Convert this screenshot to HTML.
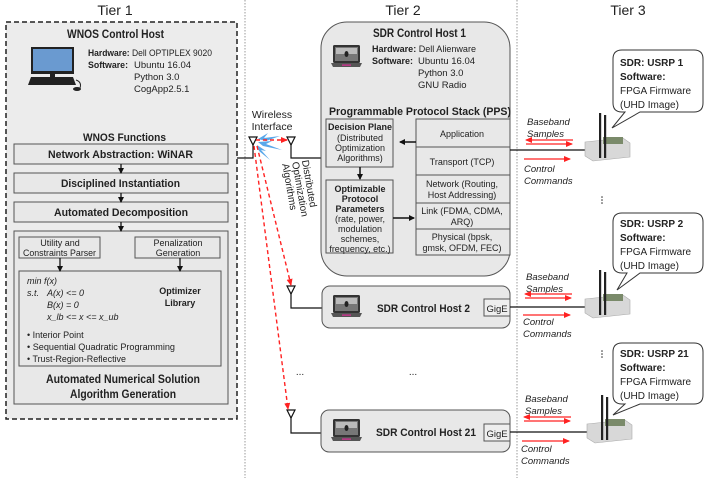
<!DOCTYPE html>
<html><head><meta charset="utf-8"><style>
html,body{margin:0;padding:0;background:#fff}
svg{display:block}
text{font-family:"Liberation Sans",sans-serif;fill:#222}
.b{font-weight:bold}
.i{font-style:italic}
</style></head><body>
<svg width="706" height="478" viewBox="0 0 706 478" xmlns="http://www.w3.org/2000/svg">
<defs>
<marker id="ak" markerWidth="6" markerHeight="6" refX="5" refY="3" orient="auto" markerUnits="userSpaceOnUse"><path d="M0,0 L6,3 L0,6z" fill="#111"/></marker>
<marker id="ar" markerWidth="7" markerHeight="6" refX="6" refY="3" orient="auto" markerUnits="userSpaceOnUse"><path d="M0,0 L7,3 L0,6z" fill="#f22"/></marker>
<marker id="arl" markerWidth="7" markerHeight="6" refX="1" refY="3" orient="auto" markerUnits="userSpaceOnUse"><path d="M7,0 L0,3 L7,6z" fill="#f22"/></marker>
<g id="lap"><rect x="0" y="0" width="27" height="18" rx="1.5" fill="#333"/><rect x="2" y="2" width="23" height="14" fill="#777"/><rect x="3" y="3" width="21" height="6" fill="#bbb"/><ellipse cx="13.5" cy="9" rx="2" ry="3" fill="#222"/><path d="M-2,18 H29 L27,22 H0 Z" fill="#555"/><rect x="9" y="19.5" width="9" height="1.2" fill="#e0309a"/></g>
<g id="usrp"><path d="M0,29 L38,25 L45,30 L45,44 L8,48 L0,43 Z" fill="#d8d8d8" stroke="#aaa" stroke-width="0.6"/><rect x="18" y="24" width="20" height="7" fill="#7a8a6a"/><rect x="14" y="0" width="2.2" height="45" fill="#222"/><rect x="19" y="2" width="2.2" height="43" fill="#222"/></g>
</defs>

<text x="115" y="15" font-size="14" text-anchor="middle">Tier 1</text>
<text x="403" y="15" font-size="14" text-anchor="middle">Tier 2</text>
<text x="628" y="15" font-size="14" text-anchor="middle">Tier 3</text>
<line x1="245" y1="0" x2="245" y2="478" stroke="#999" stroke-dasharray="1.5,1.5"/>
<line x1="517" y1="0" x2="517" y2="478" stroke="#999" stroke-dasharray="1.5,1.5"/>

<!-- Tier 1 -->
<rect x="6" y="22" width="231" height="397" fill="#ececec" stroke="#222" stroke-width="1.5" stroke-dasharray="5,3"/>
<text x="67" y="38" font-size="11.5" class="b" textLength="97" lengthAdjust="spacingAndGlyphs">WNOS Control Host</text>
<rect x="31" y="47" width="43" height="27" fill="#222"/><rect x="33" y="49" width="39" height="22" fill="#6a9ad0"/>
<rect x="50" y="74" width="5" height="3" fill="#222"/>
<path d="M31,77 H73 L76,85 H28 Z" fill="#222"/>
<path d="M76,80 Q82,82 80,88" stroke="#222" fill="none"/><ellipse cx="77" cy="89" rx="4" ry="2" fill="#222"/>
<text x="88" y="56" font-size="9.5" textLength="124" lengthAdjust="spacingAndGlyphs"><tspan class="b">Hardware:</tspan> Dell OPTIPLEX 9020</text>
<text x="88" y="68" font-size="9.5" class="b" textLength="40" lengthAdjust="spacingAndGlyphs">Software:</text>
<text x="134" y="68" font-size="9.5">Ubuntu 16.04</text>
<text x="134" y="80" font-size="9.5">Python 3.0</text>
<text x="134" y="92" font-size="9.5">CogApp2.5.1</text>
<text x="83" y="141" font-size="11" class="b" textLength="83" lengthAdjust="spacingAndGlyphs">WNOS Functions</text>
<g stroke="#555" fill="#e8e8e8">
<rect x="14" y="144" width="214" height="20"/>
<rect x="14" y="173" width="214" height="20"/>
<rect x="14" y="202" width="214" height="20"/>
<rect x="14" y="231" width="214" height="173"/>
<rect x="19" y="237" width="81" height="21"/>
<rect x="135" y="237" width="85" height="21"/>
<rect x="19" y="271" width="202" height="95"/>
</g>
<text x="48" y="158" font-size="11" class="b" textLength="145" lengthAdjust="spacingAndGlyphs">Network Abstraction: WiNAR</text>
<text x="61" y="187" font-size="11" class="b" textLength="119" lengthAdjust="spacingAndGlyphs">Disciplined Instantiation</text>
<text x="54" y="216" font-size="11" class="b" textLength="134" lengthAdjust="spacingAndGlyphs">Automated Decomposition</text>
<g stroke="#111" stroke-width="1.3" marker-end="url(#ak)">
<line x1="121" y1="164" x2="121" y2="173"/><line x1="121" y1="193" x2="121" y2="202"/><line x1="121" y1="222" x2="121" y2="231"/>
<line x1="60" y1="258" x2="60" y2="271"/><line x1="180" y1="258" x2="180" y2="271"/>
</g>
<text x="60" y="246" font-size="9" text-anchor="middle">Utility and</text>
<text x="23" y="256" font-size="9" textLength="73" lengthAdjust="spacingAndGlyphs">Constraints Parser</text>
<text x="178" y="246" font-size="9" text-anchor="middle">Penalization</text>
<text x="178" y="256" font-size="9" text-anchor="middle">Generation</text>
<g font-size="9" class="i">
<text x="27" y="284">min  f(x)</text>
<text x="27" y="296">s.t.</text><text x="47" y="296">A(x) &lt;= 0</text>
<text x="47" y="308">B(x) = 0</text>
<text x="47" y="320">x_lb &lt;= x  &lt;= x_ub</text>
</g>
<text x="180" y="294" font-size="9" class="b" text-anchor="middle">Optimizer</text>
<text x="180" y="306" font-size="9" class="b" text-anchor="middle">Library</text>
<text x="27" y="338" font-size="9">• Interior Point</text>
<text x="27" y="350" font-size="9" textLength="148" lengthAdjust="spacingAndGlyphs">• Sequential Quadratic Programming</text>
<text x="27" y="362" font-size="9" textLength="99" lengthAdjust="spacingAndGlyphs">• Trust-Region-Reflective</text>
<text x="46" y="383" font-size="11.5" class="b" textLength="154" lengthAdjust="spacingAndGlyphs">Automated Numerical Solution</text>
<text x="70" y="398" font-size="11.5" class="b" textLength="106" lengthAdjust="spacingAndGlyphs">Algorithm Generation</text>

<!-- Wireless -->
<text x="272" y="118" font-size="10.5" text-anchor="middle">Wireless</text>
<text x="272" y="130" font-size="10.5" text-anchor="middle">Interface</text>
<g stroke="#111" stroke-width="1.2" fill="none">
<path d="M237,158 H253 V139"/><path d="M249,137 H257 L253,145 Z" fill="#fff"/>
<path d="M291,139 V158 H321"/><path d="M287,137 H295 L291,145 Z" fill="#fff"/>
<path d="M291,288 V308 H322"/><path d="M287,286 H295 L291,294 Z" fill="#fff"/>
<path d="M291,412 V433 H321"/><path d="M287,410 H295 L291,418 Z" fill="#fff"/>
</g>
<g fill="#5aa8ea">
<path d="M258,139 L268,133 L264,138 L280,136 L266,141 Z"/>
<path d="M258,142 L272,141 L266,144 L282,150 L263,146 Z"/>
<path d="M257,145 L266,151 L261,150 L270,160 L259,151 Z"/>
</g>
<g stroke="#f22" stroke-width="1.4" fill="none" stroke-dasharray="4,3">
<line x1="256" y1="140" x2="287" y2="140" marker-end="url(#ar)"/>
<line x1="257" y1="146" x2="291" y2="285" marker-end="url(#ar)"/>
<line x1="254" y1="146" x2="288" y2="409" marker-end="url(#ar)"/>
</g>
<g font-size="10" transform="translate(294,162) rotate(80)">
<text x="0" y="-8">Distributed</text>
<text x="0" y="2">Optimization</text>
<text x="0" y="12">Algorithms</text>
</g>

<!-- SDR host 1 -->
<rect x="321" y="22" width="189" height="254" rx="26" fill="#e8e8e8" stroke="#555"/>
<text x="373" y="37" font-size="11.5" class="b" textLength="93" lengthAdjust="spacingAndGlyphs">SDR Control Host 1</text>
<use href="#lap" x="333" y="45"/>
<text x="372" y="52" font-size="9.5" textLength="104" lengthAdjust="spacingAndGlyphs"><tspan class="b">Hardware:</tspan> Dell Alienware</text>
<text x="372" y="64" font-size="9.5" class="b" textLength="41" lengthAdjust="spacingAndGlyphs">Software:</text>
<text x="418" y="64" font-size="9.5">Ubuntu 16.04</text>
<text x="418" y="76" font-size="9.5">Python 3.0</text>
<text x="418" y="88" font-size="9.5">GNU Radio</text>
<text x="329" y="115" font-size="11" class="b" textLength="182" lengthAdjust="spacingAndGlyphs">Programmable Protocol Stack (PPS)</text>
<g stroke="#555" fill="#e8e8e8">
<rect x="326" y="119" width="67" height="48"/>
<rect x="326" y="180" width="67" height="73"/>
<rect x="416" y="119" width="94" height="136"/>
</g>
<g stroke="#555"><line x1="416" y1="147" x2="510" y2="147"/><line x1="416" y1="175" x2="510" y2="175"/><line x1="416" y1="203" x2="510" y2="203"/><line x1="416" y1="229" x2="510" y2="229"/></g>
<g font-size="9" text-anchor="middle">
<text x="360" y="130" class="b">Decision Plane</text>
<text x="360" y="141">(Distributed</text>
<text x="360" y="151">Optimization</text>
<text x="360" y="161">Algorithms)</text>
<text x="360" y="192" class="b">Optimizable</text>
<text x="360" y="202" class="b">Protocol</text>
<text x="360" y="212" class="b">Parameters</text>
<text x="360" y="222">(rate, power,</text>
<text x="360" y="232">modulation</text>
<text x="360" y="242">schemes,</text>
<text x="360" y="252">frequency, etc.)</text>
<text x="462" y="137">Application</text>
<text x="462" y="165">Transport (TCP)</text>
<text x="462" y="187">Network (Routing,</text>
<text x="462" y="198">Host Addressing)</text>
<text x="462" y="214">Link (FDMA, CDMA,</text>
<text x="462" y="225">ARQ)</text>
<text x="462" y="240">Physical (bpsk,</text>
<text x="462" y="251">gmsk, OFDM, FEC)</text>
</g>
<g stroke="#111" stroke-width="1.5" marker-end="url(#ak)">
<line x1="416" y1="142" x2="400" y2="142"/>
<line x1="360" y1="167" x2="360" y2="179"/>
<line x1="393" y1="218" x2="414" y2="218"/>
</g>

<!-- hosts 2, 21 -->
<rect x="322" y="286" width="188" height="42" rx="8" fill="#e8e8e8" stroke="#555"/>
<use href="#lap" x="333" y="295"/>
<text x="377" y="312" font-size="11" class="b" textLength="93" lengthAdjust="spacingAndGlyphs">SDR Control Host 2</text>
<rect x="484" y="299" width="26" height="17" fill="#eee" stroke="#555"/>
<text x="497" y="312" font-size="9.5" text-anchor="middle">GigE</text>
<rect x="321" y="410" width="189" height="42" rx="8" fill="#e8e8e8" stroke="#555"/>
<use href="#lap" x="333" y="419"/>
<text x="376" y="436" font-size="11" class="b" textLength="100" lengthAdjust="spacingAndGlyphs">SDR Control Host 21</text>
<rect x="484" y="424" width="26" height="17" fill="#eee" stroke="#555"/>
<text x="497" y="437" font-size="9.5" text-anchor="middle">GigE</text>
<text x="300" y="375" font-size="10" text-anchor="middle">...</text>
<text x="413" y="375" font-size="10" text-anchor="middle">...</text>

<!-- Tier 3 -->
<g stroke="#111" stroke-width="1.2">
<line x1="510" y1="150" x2="590" y2="150"/>
<line x1="510" y1="307" x2="590" y2="307"/>
<line x1="510" y1="432" x2="590" y2="432"/>
</g>
<use href="#usrp" x="585" y="113"/>
<use href="#usrp" x="585" y="270"/>
<use href="#usrp" x="587" y="395"/>

<g fill="#fff" stroke="#333">
<path d="M622,50 H694 Q703,50 703,59 V103 Q703,112 694,112 H640 L612,128 L625,112 H622 Q613,112 613,103 V59 Q613,50 622,50 Z"/>
<path d="M622,213 H694 Q703,213 703,222 V264 Q703,273 694,273 H640 L617,290 L627,273 H622 Q613,273 613,264 V222 Q613,213 622,213 Z"/>
<path d="M622,343 H694 Q703,343 703,352 V395 Q703,404 694,404 H640 L613,415 L625,404 H622 Q613,404 613,395 V352 Q613,343 622,343 Z"/>
</g>
<g font-size="10">
<text x="620" y="66" class="b">SDR: USRP 1</text><text x="620" y="80" class="b">Software:</text><text x="620" y="94">FPGA Firmware</text><text x="620" y="108">(UHD Image)</text>
<text x="620" y="227" class="b">SDR: USRP 2</text><text x="620" y="241" class="b">Software:</text><text x="620" y="255">FPGA Firmware</text><text x="620" y="269">(UHD Image)</text>
<text x="620" y="357" class="b">SDR: USRP 21</text><text x="620" y="371" class="b">Software:</text><text x="620" y="385">FPGA Firmware</text><text x="620" y="399">(UHD Image)</text>
</g>
<g font-size="9.5" class="i">
<text x="527" y="125">Baseband</text><text x="527" y="137">Samples</text>
<text x="524" y="172">Control</text><text x="524" y="184">Commands</text>
<text x="526" y="280">Baseband</text><text x="526" y="292">Samples</text>
<text x="523" y="325">Control</text><text x="523" y="337">Commands</text>
<text x="525" y="402">Baseband</text><text x="525" y="414">Samples</text>
<text x="521" y="452">Control</text><text x="521" y="464">Commands</text>
</g>
<g stroke="#f22" stroke-width="1.3">
<line x1="526" y1="140" x2="573" y2="140" marker-start="url(#arl)"/>
<line x1="526" y1="144" x2="572" y2="144" marker-end="url(#ar)"/>
<line x1="524" y1="159" x2="570" y2="159" marker-end="url(#ar)"/>
<line x1="525" y1="294" x2="572" y2="294" marker-start="url(#arl)"/>
<line x1="525" y1="298" x2="571" y2="298" marker-end="url(#ar)"/>
<line x1="523" y1="315" x2="570" y2="315" marker-end="url(#ar)"/>
<line x1="524" y1="417" x2="571" y2="417" marker-start="url(#arl)"/>
<line x1="524" y1="421" x2="570" y2="421" marker-end="url(#ar)"/>
<line x1="522" y1="441" x2="569" y2="441" marker-end="url(#ar)"/>
</g>
<g fill="#333"><circle cx="602" cy="197" r="0.8"/><circle cx="602" cy="200" r="0.8"/><circle cx="602" cy="203" r="0.8"/>
<circle cx="602" cy="351" r="0.8"/><circle cx="602" cy="354" r="0.8"/><circle cx="602" cy="357" r="0.8"/></g>
</svg>
</body></html>
